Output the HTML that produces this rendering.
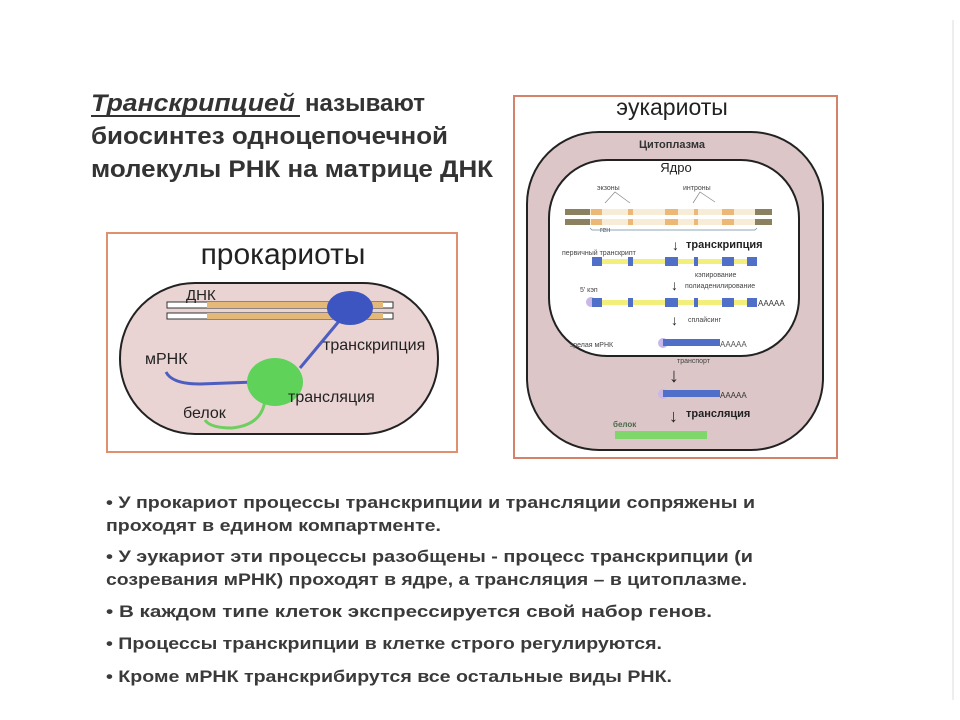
<!DOCTYPE html>
<html><head><meta charset="utf-8"><style>
html,body{margin:0;padding:0;background:#fff;}
svg{display:block;}
text{font-family:"Liberation Sans","Noto Sans CJK SC",sans-serif;}
</style></head><body>
<svg width="960" height="720" viewBox="0 0 960 720" xmlns="http://www.w3.org/2000/svg">
<g fill="#333" font-size="24" font-weight="bold">
<text x="91" y="111" font-style="italic" textLength="204" lengthAdjust="spacingAndGlyphs">Транскрипцией</text>
<line x1="91" y1="116" x2="300" y2="116" stroke="#333" stroke-width="2"/>
<text x="305" y="111" textLength="120" lengthAdjust="spacingAndGlyphs">называют</text>
<text x="91" y="144" textLength="357" lengthAdjust="spacingAndGlyphs">биосинтез одноцепочечной</text>
<text x="91" y="177" textLength="402" lengthAdjust="spacingAndGlyphs">молекулы РНК на матрице ДНК</text>
</g>

<rect x="107" y="233" width="350" height="219" fill="#fff" stroke="#e0906e" stroke-width="2"/>
<text x="283" y="264" font-size="30" text-anchor="middle" fill="#222">прокариоты</text>
<rect x="120" y="283" width="318" height="151" rx="75" ry="75" fill="#e9d3d3" stroke="#222" stroke-width="2"/>
<rect x="167" y="302" width="226" height="6" fill="#fff" stroke="#333" stroke-width="1"/>
<rect x="167" y="313" width="226" height="6" fill="#fff" stroke="#333" stroke-width="1"/>
<rect x="207" y="302" width="176" height="6" fill="#e3b878"/>
<rect x="207" y="313" width="176" height="6" fill="#e3b878"/>
<path d="M340 320 L300 368" stroke="#4d5ec0" stroke-width="3" fill="none"/>
<path d="M166 372 Q172 384 200 384 L255 382" stroke="#4d5ec0" stroke-width="3" fill="none"/>
<path d="M265 400 Q262 425 232 428 Q210 428 205 420" stroke="#6ccf5f" stroke-width="3" fill="none"/>
<ellipse cx="350" cy="308" rx="23" ry="17" fill="#3d55c0"/>
<ellipse cx="275" cy="382" rx="28" ry="24" fill="#5fd25a"/>
<g fill="#222" font-size="16">
<text x="186" y="300" font-size="15">ДНК</text>
<text x="323" y="350">транскрипция</text>
<text x="145" y="364">мРНК</text>
<text x="288" y="402">трансляция</text>
<text x="183" y="418">белок</text>
</g>

<rect x="514" y="96" width="323" height="362" fill="#fff" stroke="#d4826a" stroke-width="2"/>
<text x="672" y="115" font-size="23" text-anchor="middle" fill="#222">эукариоты</text>
<rect x="527" y="132" width="296" height="318" rx="72" ry="72" fill="#dcc6c8" stroke="#222" stroke-width="2"/>
<rect x="549" y="160" width="250" height="196" rx="58" ry="58" fill="#fff" stroke="#222" stroke-width="2"/>
<text x="672" y="148" font-size="11" font-weight="bold" text-anchor="middle" fill="#333">Цитоплазма</text>
<text x="676" y="172" font-size="13" text-anchor="middle" fill="#222">Ядро</text>
<g font-size="7" fill="#444">
<text x="597" y="190">экзоны</text>
<text x="683" y="190">интроны</text>
<text x="600" y="232">ген</text>
<text x="562" y="255">первичный транскрипт</text>
<text x="580" y="292">5' кэп</text>
<text x="570" y="347">зрелая мРНК</text>
<text x="695" y="277">кэпирование</text>
<text x="685" y="288">полиаденилирование</text>
<text x="688" y="322">сплайсинг</text>
<text x="677" y="363">транспорт</text>
</g>
<g stroke="#888" stroke-width="0.7" fill="none"><path d="M605 203 L615 192 L630 203 M693 203 L700 192 L715 202"/><path d="M590 228 L592 230 L755 230 L757 228" stroke="#6a8aa0"/></g>
<g>
<rect x="565" y="209" width="207" height="6" fill="#f7ecd6"/>
<rect x="565" y="219" width="207" height="6" fill="#f7ecd6"/>
<g fill="#8b8060"><rect x="565" y="209" width="25" height="6"/><rect x="565" y="219" width="25" height="6"/><rect x="755" y="209" width="17" height="6"/><rect x="755" y="219" width="17" height="6"/></g>
<g fill="#ebb877"><rect x="591" y="209" width="11" height="6"/><rect x="591" y="219" width="11" height="6"/><rect x="628" y="209" width="5" height="6"/><rect x="628" y="219" width="5" height="6"/><rect x="665" y="209" width="13" height="6"/><rect x="665" y="219" width="13" height="6"/><rect x="694" y="209" width="4" height="6"/><rect x="694" y="219" width="4" height="6"/><rect x="722" y="209" width="12" height="6"/><rect x="722" y="219" width="12" height="6"/></g>
</g>
<g>
<rect x="592" y="259" width="165" height="5" fill="#f3ef7c"/>
<g fill="#4f6fc8"><rect x="592" y="257" width="10" height="9"/><rect x="628" y="257" width="5" height="9"/><rect x="665" y="257" width="13" height="9"/><rect x="694" y="257" width="4" height="9"/><rect x="722" y="257" width="12" height="9"/><rect x="747" y="257" width="10" height="9"/></g>
</g>
<g>
<circle cx="591" cy="302" r="5" fill="#c8b8e8"/>
<rect x="592" y="300" width="165" height="5" fill="#f3ef7c"/>
<g fill="#4f6fc8"><rect x="592" y="298" width="10" height="9"/><rect x="628" y="298" width="5" height="9"/><rect x="665" y="298" width="13" height="9"/><rect x="694" y="298" width="4" height="9"/><rect x="722" y="298" width="12" height="9"/><rect x="747" y="298" width="10" height="9"/></g>
<text x="758" y="306" font-size="8" fill="#333">AAAAA</text>
</g>
<circle cx="663" cy="343" r="5" fill="#c8b8e8"/>
<rect x="663" y="339" width="57" height="7" fill="#4f6fc8"/>
<text x="720" y="347" font-size="8" fill="#555">AAAAA</text>
<circle cx="663" cy="394" r="5" fill="#c8b8e8"/>
<rect x="663" y="390" width="57" height="7" fill="#4f6fc8"/>
<text x="720" y="398" font-size="8" fill="#333">AAAAA</text>
<rect x="615" y="431" width="92" height="8" fill="#7fd66a"/>
<text x="613" y="427" font-size="8" font-weight="bold" fill="#4a6a4a">белок</text>
<g fill="#222" font-size="11" font-weight="bold">
<text x="672" y="250" font-size="14" font-weight="normal">↓</text>
<text x="686" y="248">транскрипция</text>
<text x="671" y="290" font-size="14" font-weight="normal">↓</text>
<text x="671" y="325" font-size="14" font-weight="normal">↓</text>
<text x="669" y="382" font-size="20">↓</text>
<text x="669" y="422" font-size="18">↓</text>
<text x="686" y="417">трансляция</text>
</g>

<g fill="#3a3a3a" font-size="17" font-weight="bold">
<text x="106" y="508" textLength="649" lengthAdjust="spacingAndGlyphs">• У прокариот процессы транскрипции и трансляции сопряжены и</text>
<text x="106" y="531" textLength="335" lengthAdjust="spacingAndGlyphs">проходят в едином компартменте.</text>
<text x="106" y="562" textLength="647" lengthAdjust="spacingAndGlyphs">• У эукариот эти процессы разобщены  - процесс транскрипции (и</text>
<text x="106" y="585" textLength="641" lengthAdjust="spacingAndGlyphs">созревания мРНК) проходят в ядре, а трансляция – в цитоплазме.</text>
<text x="106" y="617" textLength="606" lengthAdjust="spacingAndGlyphs">• В каждом типе клеток экспрессируется свой набор генов.</text>
<text x="106" y="649" textLength="556" lengthAdjust="spacingAndGlyphs">• Процессы транскрипции в клетке строго регулируются.</text>
<text x="106" y="682" textLength="566" lengthAdjust="spacingAndGlyphs">• Кроме мРНК транскрибирутся все остальные виды РНК.</text>
</g>
<line x1="953" y1="20" x2="953" y2="700" stroke="#eee" stroke-width="2"/>
</svg>
</body></html>
